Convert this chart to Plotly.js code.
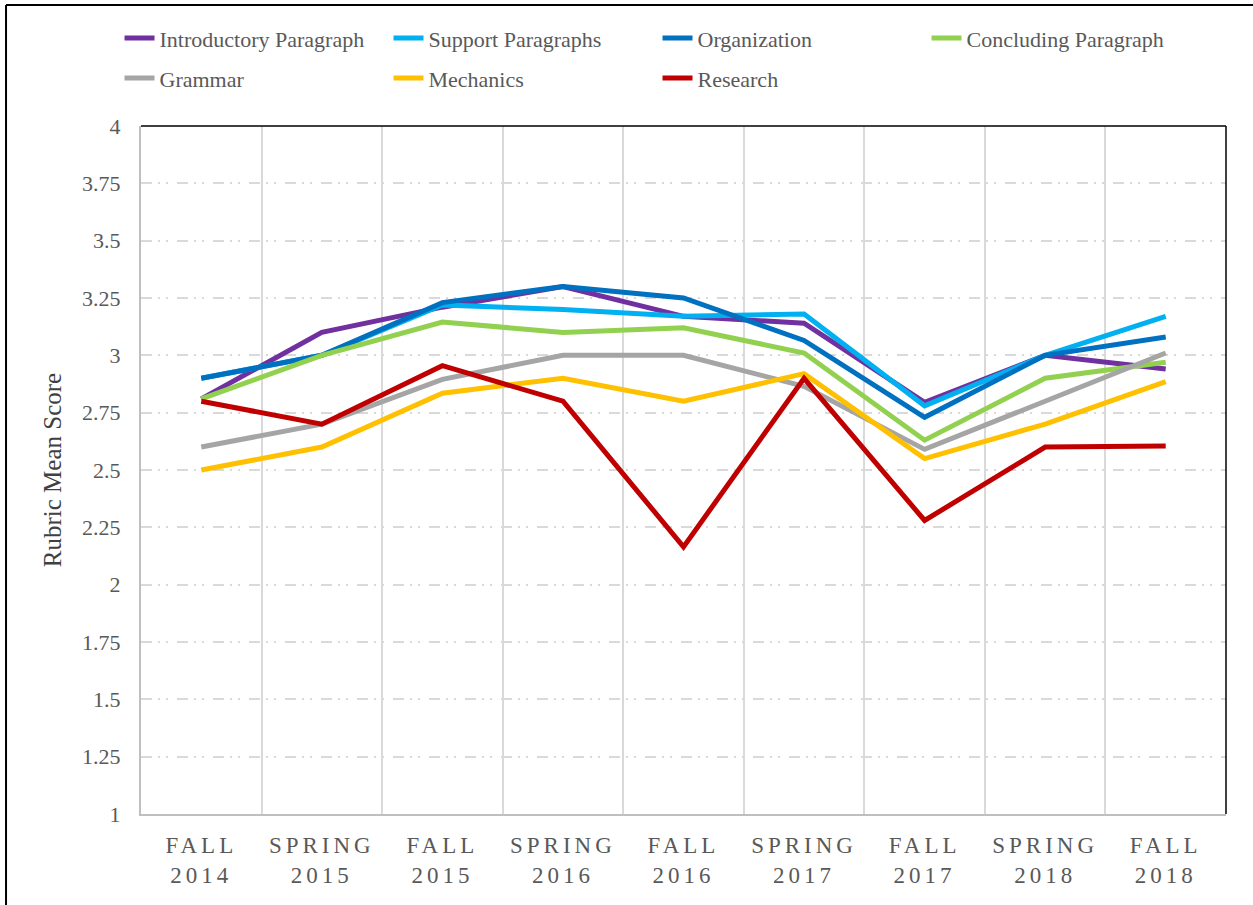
<!DOCTYPE html>
<html>
<head>
<meta charset="utf-8">
<script src="https://cdn.plot.ly/plotly-3.0.1.min.js"></script>
<style>
html,body{margin:0;padding:0;background:#fff;}
#chart{width:1253px;height:905px;}
.xtick text{letter-spacing:4px;}
</style>
</head>
<body>
<div id="chart"></div>
<script>
const terms = ["FALL<br>2014","SPRING<br>2015","FALL<br>2015","SPRING<br>2016","FALL<br>2016","SPRING<br>2017","FALL<br>2017","SPRING<br>2018","FALL<br>2018"];
const seriesNames = ["Introductory Paragraph","Support Paragraphs","Organization","Concluding Paragraph","Grammar","Mechanics","Research"];
const introductory = [2.81,3.10,3.21,3.30,3.17,3.14,2.795,3.00,2.94];
const support      = [2.90,3.00,3.22,3.20,3.17,3.18,2.78,3.00,3.17];
const organization = [2.90,3.00,3.23,3.30,3.25,3.065,2.73,3.00,3.08];
const concluding   = [2.81,3.00,3.145,3.10,3.12,3.01,2.63,2.90,2.97];
const grammar      = [2.60,2.70,2.895,3.00,3.00,2.865,2.59,2.80,3.01];
const mechanics    = [2.50,2.60,2.835,2.90,2.80,2.92,2.55,2.70,2.885];
const research     = [2.80,2.70,2.955,2.80,2.165,2.90,2.28,2.60,2.605];
const yTicks = [1,1.25,1.5,1.75,2,2.25,2.5,2.75,3,3.25,3.5,3.75,4];
const yTickText = ["1","1.25","1.5","1.75","2","2.25","2.5","2.75","3","3.25","3.5","3.75","4"];

const values = [introductory,support,organization,concluding,grammar,mechanics,research];
const colors = ["#7030A0","#00B0F0","#0070C0","#92D050","#A5A5A5","#FFC000","#C00000"];
const legendOf = ["legend","legend","legend","legend","legend2","legend2","legend2"];

const traces = values.map((v,i)=>({
  type:"scatter", mode:"lines", x:terms, y:v, name:seriesNames[i],
  line:{color:colors[i], width:5},
  legend:legendOf[i]
}));

const font = "Liberation Serif, Times New Roman, serif";
const legendCommon = {
  orientation:"h", xanchor:"left", yanchor:"top",
  font:{family:font, size:22, color:"#595959"},
  entrywidth:224, entrywidthmode:"pixels", bgcolor:"rgba(0,0,0,0)"
};
const layout = {
  width:1253, height:905,
  margin:{l:141, r:27, t:126, b:91},
  paper_bgcolor:"#fff", plot_bgcolor:"#fff",
  font:{family:font, color:"#595959"},
  showlegend:true,
  legend:Object.assign({x:-0.0198, y:1.158}, legendCommon),
  legend2:Object.assign({x:-0.0198, y:1.100}, legendCommon),
  xaxis:{
    type:"category", range:[-0.5,8.5], tickson:"boundaries", ticks:"",
    showgrid:true, gridcolor:"#d9d9d9", gridwidth:2,
    showline:true, linecolor:"#bfbfbf", linewidth:2,
    tickfont:{family:font, size:23, color:"#595959"},
    ticklabelstandoff:9, fixedrange:true
  },
  yaxis:{
    range:[1,4], tickvals:yTicks, ticktext:yTickText,
    showgrid:true, gridcolor:"#d9d9d9", gridwidth:2, griddash:"11px,6px,2px,6px,2px,9px",
    showline:true, linecolor:"#bfbfbf", linewidth:2, zeroline:false,
    tickfont:{family:font, size:22, color:"#595959"},
    ticklabelstandoff:14,
    title:{text:"Rubric Mean Score", font:{family:font, size:25, color:"#404040"}, standoff:13},
    fixedrange:true
  },
  shapes:[
    {type:"line", xref:"paper", yref:"paper", x0:0, x1:1, y0:1, y1:1, line:{color:"#000", width:1.5}},
    {type:"line", xref:"paper", yref:"paper", x0:1, x1:1, y0:0, y1:1, line:{color:"#000", width:1.5}},
    {type:"line", xref:"paper", yref:"paper", x0:-0.1244, x1:-0.1244, y0:-0.2, y1:1.176, line:{color:"#000", width:2}},
    {type:"line", xref:"paper", yref:"paper", x0:-0.1244, x1:1.03, y0:1.176, y1:1.176, line:{color:"#000", width:2}}
  ]
};
Plotly.newPlot("chart", traces, layout, {displayModeBar:false, staticPlot:true});
</script>
</body>
</html>
